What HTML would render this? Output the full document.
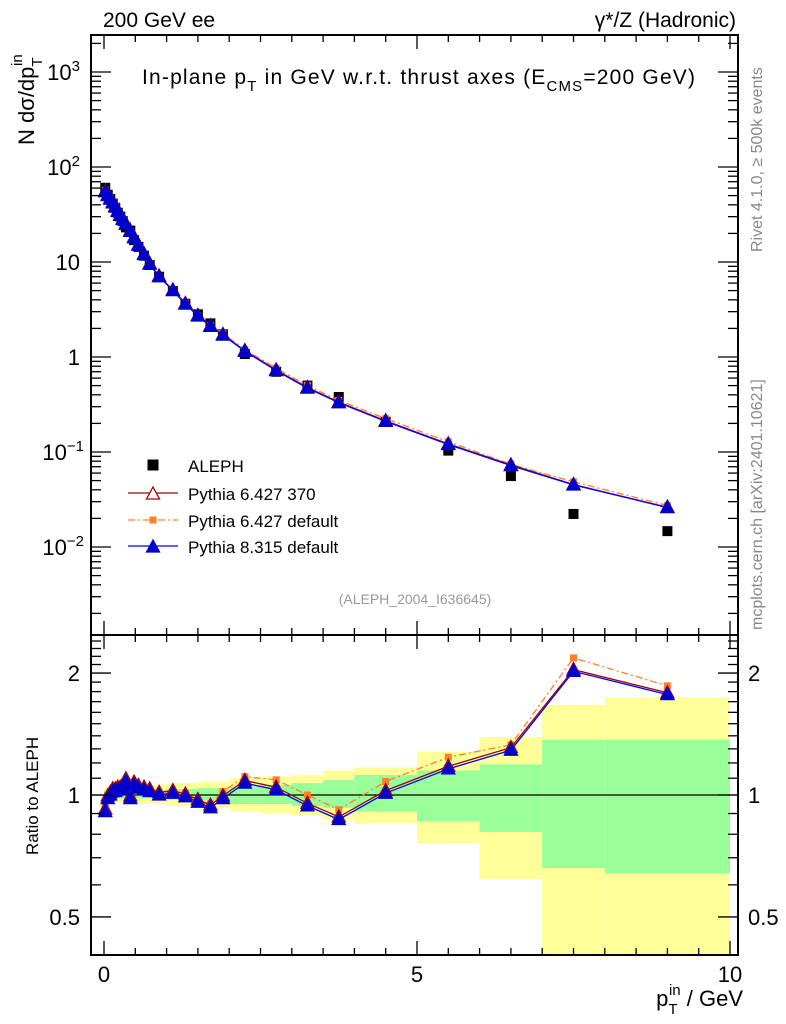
<!DOCTYPE html>
<html><head><meta charset="utf-8"><style>
html,body{margin:0;padding:0;background:#fff;}
svg{display:block;font-family:"Liberation Sans",sans-serif;}
</style></head><body>
<svg id="s" width="786" height="1024" viewBox="0 0 786 1024" xmlns="http://www.w3.org/2000/svg"></svg>
<script>
const S=document.getElementById('s');
let h='';
const L=91,R=738,T=35,M=635,B=955;
const X=v=>104+v*62.6;
const YM=v=>262-95*(Math.log10(v)-1);
const YR=v=>795-405*Math.log10(v);
const bands=[[0,0.5,0.96,1.04,0.98,1.02],[0.5,1,0.95,1.06,0.98,1.03],[1,1.5,0.94,1.07,0.975,1.035],[1.5,2,0.93,1.08,0.97,1.04],[2,2.5,0.91,1.10,0.95,1.05],[2.5,3,0.90,1.11,0.95,1.06],[3,3.5,0.89,1.12,0.94,1.07],[3.5,4,0.87,1.15,0.93,1.09],[4,5,0.85,1.17,0.91,1.12],[5,6,0.76,1.28,0.86,1.15],[6,7,0.62,1.39,0.81,1.19],[7,8,0.3,1.67,0.66,1.37],[8,10,0.3,1.74,0.64,1.37]];
for(const b of bands){h+=`<rect x="${X(b[0])}" y="${YR(b[3])}" width="${X(b[1])-X(b[0])}" height="${Math.min(B,YR(b[2]))-YR(b[3])}" fill="#ffff99"/>`;
h+=`<rect x="${X(b[0])}" y="${YR(b[5])}" width="${X(b[1])-X(b[0])}" height="${YR(b[4])-YR(b[5])}" fill="#99ff99"/>`;}
h+=`<line x1="${L}" x2="${R}" y1="795" y2="795" stroke="#000" stroke-width="1.2"/>`;
const xs=[0.02,0.06,0.1,0.14,0.18,0.22,0.26,0.3,0.35,0.42,0.48,0.55,0.64,0.73,0.88,1.1,1.3,1.5,1.7,1.9,2.25,2.75,3.25,3.75,4.5,5.5,6.5,7.5,9.0];
const mc=[55,50,46,42,38,34,31,28,25,21,18,15,12,9.5,7,5,3.6,2.7,2.1,1.7,1.15,0.72,0.47,0.33,0.21,0.12,0.072,0.045,0.026];
const r8=[0.91,0.98,1.0,1.02,1.02,1.03,1.03,1.04,1.08,0.98,1.06,1.04,1.03,1.02,1.0,1.01,0.99,0.96,0.93,0.98,1.07,1.03,0.94,0.87,1.01,1.16,1.29,2.02,1.77];
const r6=r8.map((v,i)=>v*(i<27?1.015:1.01));
const rd=[0.94,1.0,1.02,1.03,1.03,1.03,1.03,1.04,1.06,0.98,1.05,1.04,1.03,1.03,1.0,1.02,1.01,0.97,0.95,1.02,1.11,1.09,1.0,0.92,1.08,1.24,1.33,2.18,1.86];
const data=mc.map((m,i)=>m/r8[i]);
function poly(pts,st){return `<polyline fill="none" points="${pts.map(p=>p[0].toFixed(1)+','+p[1].toFixed(1)).join(' ')}" ${st}/>`;}
function tri(x,y,f,s){return `<polygon points="${x},${y-7} ${x-6.5},${y+5} ${x+6.5},${y+5}" fill="${f}" stroke="${s}" stroke-width="1.3"/>`;}
function sq(x,y,sz,f){return `<rect x="${x-sz/2}" y="${y-sz/2}" width="${sz}" height="${sz}" fill="${f}"/>`;}
data.forEach((d,i)=>h+=sq(X(xs[i]),YM(d),10,'#000'));
h+=poly(xs.map((x,i)=>[X(x),YM(mc[i]*rd[i]/r8[i])]),'stroke="#ff7f2a" stroke-width="1.3" stroke-dasharray="7,3,2,3"');
xs.forEach((x,i)=>h+=sq(X(x),YM(mc[i]*rd[i]/r8[i]),7,'#ff7f2a'));
h+=poly(xs.map((x,i)=>[X(x),YM(mc[i]*r6[i]/r8[i])]),'stroke="#a00000" stroke-width="1.3"');
xs.forEach((x,i)=>h+=tri(X(x),YM(mc[i]*r6[i]/r8[i]),'none','#a00000'));
h+=poly(xs.map((x,i)=>[X(x),YM(mc[i])]),'stroke="#0000ff" stroke-width="1.3"');
xs.forEach((x,i)=>h+=tri(X(x),YM(mc[i]),'#0000cc','#0000cc'));
h+=poly(xs.map((x,i)=>[X(x),YR(rd[i])]),'stroke="#ff7f2a" stroke-width="1.3" stroke-dasharray="7,3,2,3"');
xs.forEach((x,i)=>h+=sq(X(x),YR(rd[i]),7,'#ff7f2a'));
h+=poly(xs.map((x,i)=>[X(x),YR(r6[i])]),'stroke="#a00000" stroke-width="1.3"');
xs.forEach((x,i)=>h+=tri(X(x),YR(r6[i]),'none','#a00000'));
h+=poly(xs.map((x,i)=>[X(x),YR(r8[i])]),'stroke="#0000ff" stroke-width="1.3"');
xs.forEach((x,i)=>h+=tri(X(x),YR(r8[i]),'#0000cc','#0000cc'));
h+=`<rect x="${L}" y="${T}" width="${R-L}" height="${M-T}" fill="none" stroke="#000" stroke-width="2"/>`;
h+=`<rect x="${L}" y="${M}" width="${R-L}" height="${B-M}" fill="none" stroke="#000" stroke-width="2"/>`;
for(let v=0;v<=10.01;v+=0.5){const big=Math.abs(v-Math.round(v/5)*5)<0.01,l=big?14:7,x=X(v);
for(const [y0,d] of [[T,1],[M,-1],[M,1],[B,-1]])h+=`<line x1="${x}" x2="${x}" y1="${y0}" y2="${y0+d*l}" stroke="#000" stroke-width="1.3"/>`;}
h+=`<text x="${X(0)}" y="982" font-size="22" text-anchor="middle">0</text><text x="${X(5)}" y="982" font-size="22" text-anchor="middle">5</text><text x="${X(10)}" y="982" font-size="22" text-anchor="middle">10</text>`;
for(let e=-3;e<=3;e++)for(let k=1;k<=9;k++){const v=k*Math.pow(10,e),y=YM(v);if(y<T||y>M)continue;const l=k==1?20:10;
h+=`<line x1="${L}" x2="${L+l}" y1="${y}" y2="${y}" stroke="#000" stroke-width="1.3"/><line x1="${R}" x2="${R-l}" y1="${y}" y2="${y}" stroke="#000" stroke-width="1.3"/>`;}
const lab=[[3,'10<tspan dy="-9" font-size="15">3</tspan>'],[2,'10<tspan dy="-9" font-size="15">2</tspan>'],[1,'10'],[0,'1'],[-1,'10<tspan dy="-9" font-size="15">−1</tspan>'],[-2,'10<tspan dy="-9" font-size="15">−2</tspan>']];
for(const [e,t] of lab){const y=YM(Math.pow(10,e))+8;h+=`<text x="${e<0?84:80}" y="${y}" font-size="22" text-anchor="end">${t}</text>`;}
for(let v=0.4;v<=2.5;v+=0.1){const y=YR(v);if(y<M||y>B)continue;const big=[0.5,1,2].some(a=>Math.abs(a-v)<0.01),l=big?20:10;
h+=`<line x1="${L}" x2="${L+l}" y1="${y}" y2="${y}" stroke="#000" stroke-width="1.3"/><line x1="${R}" x2="${R-l}" y1="${y}" y2="${y}" stroke="#000" stroke-width="1.3"/>`;}
for(const [v,t] of [[2,'2'],[1,'1'],[0.5,'0.5']]){const y=YR(v)+8;h+=`<text x="80" y="${y}" font-size="22" text-anchor="end">${t}</text><text x="748" y="${y}" font-size="22">${t}</text>`;}
h+=`<text x="103" y="27" font-size="21">200 GeV ee</text><text x="736" y="27" font-size="21" text-anchor="end">γ*/Z (Hadronic)</text>`;
h+=`<text x="142" y="84" font-size="21" textLength="553" lengthAdjust="spacing">In-plane p<tspan dy="7" font-size="15">T</tspan><tspan dy="-7"> in GeV w.r.t. thrust axes (E</tspan><tspan dy="7" font-size="15">CMS</tspan><tspan dy="-7">=200 GeV)</tspan></text>`;
h+=`<text transform="translate(34,145) rotate(-90)" font-size="22">N  dσ/dp<tspan dy="8" font-size="15">T</tspan><tspan dy="-20" dx="-8" font-size="15">in</tspan></text>`;
h+=`<text transform="translate(38,855) rotate(-90)" font-size="17">Ratio to ALEPH</text>`;
h+=`<text x="743" y="1006" font-size="22" text-anchor="end">p<tspan dy="8" font-size="15">T</tspan><tspan dy="-19" dx="-8" font-size="15">in</tspan><tspan dy="11"> / GeV</tspan></text>`;
h+=`<text x="415" y="604" font-size="14" fill="#999" text-anchor="middle">(ALEPH_2004_I636645)</text>`;
h+=`<text transform="translate(762,252) rotate(-90)" font-size="16" fill="#888">Rivet 4.1.0, ≥ 500k events</text>`;
h+=`<text transform="translate(762,630) rotate(-90)" font-size="16" fill="#888">mcplots.cern.ch [arXiv:2401.10621]</text>`;
h+=sq(153,465,11,'#000')+`<text x="188" y="472" font-size="17">ALEPH</text>`;
h+=`<line x1="128" x2="178" y1="493" y2="493" stroke="#a00000" stroke-width="1.3"/>`+tri(153,494,'#fff','#a00000')+`<text x="188" y="500" font-size="17">Pythia 6.427 370</text>`;
h+=`<line x1="128" x2="178" y1="520" y2="520" stroke="#ff7f2a" stroke-width="1.3" stroke-dasharray="7,3,2,3"/>`+sq(153,520,7,'#ff7f2a')+`<text x="188" y="527" font-size="17">Pythia 6.427 default</text>`;
h+=`<line x1="128" x2="178" y1="546" y2="546" stroke="#0000ff" stroke-width="1.3"/>`+tri(153,547,'#0000cc','#0000cc')+`<text x="188" y="553" font-size="17">Pythia 8.315 default</text>`;
S.innerHTML=h;
</script>
</body></html>
